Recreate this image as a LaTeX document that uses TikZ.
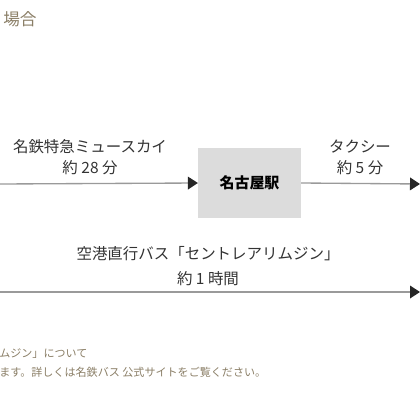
\documentclass[tikz,border=0pt]{standalone}
\usepackage{fontspec}
\newfontfamily\jpfont{Noto Sans CJK JP}
\usetikzlibrary{arrows.meta}

\definecolor{inkgray}{HTML}{333333}
\definecolor{linegray}{HTML}{9A9A9A}
\definecolor{boxgray}{HTML}{DCDCDC}
\definecolor{notebrown}{HTML}{8A7E66}

\begin{document}
\begin{tikzpicture}[
  x=0.75pt, y=-0.75pt,
  font=\jpfont,
  lbl/.style    = {text=inkgray, font=\jpfont\fontsize{11.6}{13}\selectfont,
                   inner sep=0pt},
  station/.style= {fill=boxgray, minimum width=77pt, minimum height=52pt,
                   inner sep=0pt, text=black,
                   font=\jpfont\bfseries\fontsize{11.2}{13}\selectfont},
  note/.style   = {text=notebrown, font=\jpfont\fontsize{8.3}{9}\selectfont,
                   inner sep=0pt, anchor=west},
  route/.style  = {draw=linegray, line width=1pt,
                   -{Triangle[length=7.5pt,width=9.5pt,color=black!85]}},
]
\useasboundingbox (0,0) rectangle (420,420);

%% ==== heading, cut at the left edge =======================================
\node[text=notebrown, font=\jpfont\fontsize{12.5}{14}\selectfont,
      inner sep=0pt, anchor=west] (head) at (3,19) {場合};

%% ==== train and taxi via Nagoya ==========================================
\coordinate (trainstart) at (0,184);
\coordinate (taxiend)    at (420,184);
\node[station] (nagoya) at (249.5,183) {名古屋駅};

\node[lbl] (trainname) at (90,147) {名鉄特急ミュースカイ};
\node[lbl] (traintime) at (90,168) {約 28 分};
\node[lbl] (taxiname)  at (360,147) {タクシー};
\node[lbl] (taxitime)  at (360,168) {約 5 分};

\draw[route] (trainstart) -- (nagoya.west);
\draw[route] (nagoya.east) -- (taxiend);

%% ==== direct airport bus ==================================================
\coordinate (busstart) at (0,292);
\coordinate (busend)   at (420,292);
\node[lbl] (busname) at (208,254) {空港直行バス「セントレアリムジン」};
\node[lbl] (bustime) at (208,279) {約 1 時間};
\draw[route] (busstart) -- (busend);

%% ==== note at the bottom ==================================================
\node[note] (note1) at (-1,354) {ムジン」について};
\node[note] (note2) at (-1,372)
  {ます。詳しくは名鉄バス 公式サイトをご覧ください。};

\end{tikzpicture}
\end{document}
